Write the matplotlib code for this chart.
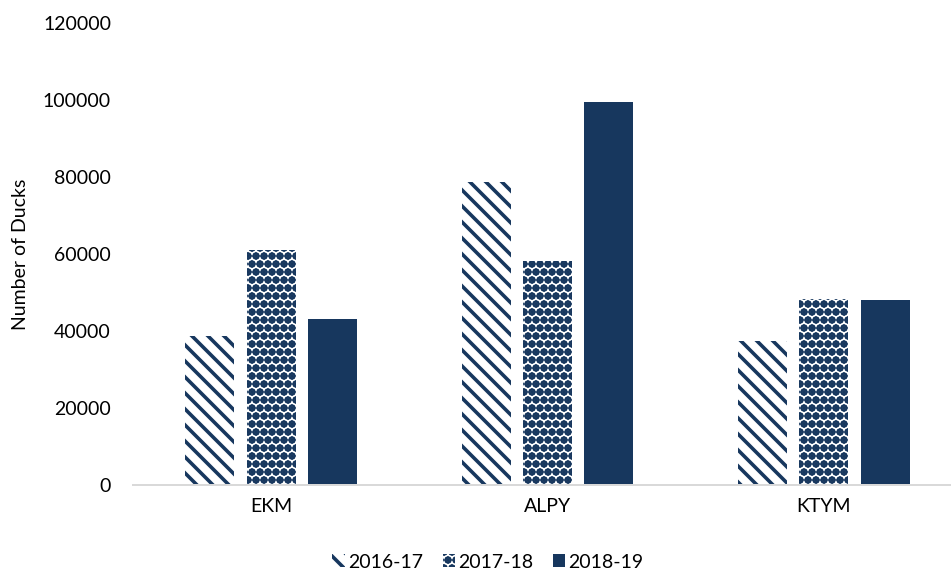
import numpy as np
import matplotlib.pyplot as plt

# Dane
sites = ["EKM", "ALPY", "KTYM"]
seasons = ["2016-17", "2017-18", "2018-19"]
ducks_1617 = [38700, 78700, 37400]
ducks_1718 = [61000, 58200, 48300]
ducks_1819 = [43100, 99500, 48100]

navy = "#17375e"

# niska rozdzielczość -> gęstsze kreskowanie; rozmiary w punktach skalowane przez S
DPI = 48
S = 72 / DPI

plt.rcParams["font.family"] = ["Lato", "DejaVu Sans"]
plt.rcParams["hatch.color"] = navy

fig = plt.figure(figsize=(951 / DPI, 571 / DPI), dpi=DPI)
ax = fig.add_axes([133 / 951, 86 / 571, 829 / 951, 462 / 571])

x = np.arange(len(sites))
off = 0.222
w = 0.178

plt.rcParams["hatch.linewidth"] = 3.6 * S
b1 = ax.bar(x - off, ducks_1617, w, facecolor="white", edgecolor=navy, linewidth=0,
            hatch="\\", label=seasons[0])
plt.rcParams["hatch.linewidth"] = 1.6 * S
b2 = ax.bar(x, ducks_1718, w, facecolor="white", edgecolor=navy, linewidth=0,
            hatch="O.", label=seasons[1])
b3 = ax.bar(x + off, ducks_1819, w, facecolor=navy, edgecolor=navy, linewidth=0,
            label=seasons[2])

# grubość kreskowania osobno dla każdej serii
for bars, lw in ((b1, 3.6 * S), (b2, 1.6 * S)):
    for p in bars:
        if hasattr(p, "set_hatch_linewidth"):
            p.set_hatch_linewidth(lw)

fs = 19.5 * S
ax.set_xlim(-0.5, 2.5)
ax.set_ylim(0, 120000)
ax.set_yticks(np.arange(0, 120001, 20000))
ax.set_xticks(x)
ax.set_xticklabels(sites)
ax.tick_params(axis="both", length=0, labelsize=fs, colors="black")
ax.tick_params(axis="y", pad=22 * S)
ax.tick_params(axis="x", pad=13 * S)

for s in ["top", "right", "left"]:
    ax.spines[s].set_visible(False)
ax.spines["bottom"].set_color("#d9d9d9")
ax.spines["bottom"].set_linewidth(2 * S)

ax.set_ylabel("Number of Ducks", fontsize=fs, labelpad=14 * S)

leg = fig.legend(loc="center", bbox_to_anchor=(488 / 951, 1 - 562 / 571), ncol=3,
                 frameon=False, fontsize=fs, handlelength=0.65, handleheight=0.65,
                 handletextpad=0.15, columnspacing=1.0)
for h, lw in zip(leg.get_patches(), (3.6 * S, 1.6 * S, 1.6 * S)):
    if hasattr(h, "set_hatch_linewidth"):
        h.set_hatch_linewidth(lw)

fig.savefig("out.png", dpi=DPI)
